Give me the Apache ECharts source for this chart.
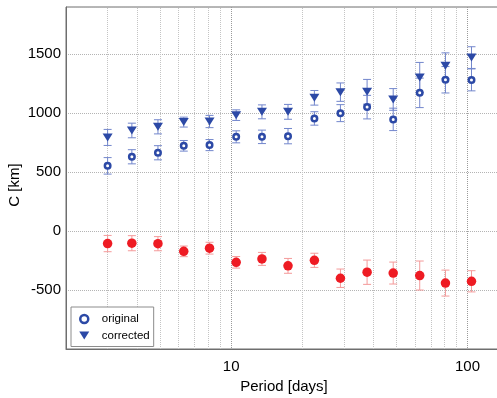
<!DOCTYPE html>
<html>
<head>
<meta charset="utf-8">
<script src="https://cdn.jsdelivr.net/npm/echarts@6/dist/echarts.min.js"></script>
<style>
  html, body { margin: 0; padding: 0; background: #fff; overflow: hidden; }
  #chart { width: 497px; height: 398px; }
</style>
</head>
<body>
<div id="chart"></div>
<script>
// Oscillation period of each bin (days)
const period = [3.0, 3.8, 4.9, 6.3, 8.1, 10.5, 13.5, 17.4, 22.5, 29, 37.6, 48.5, 62.8, 80.7, 104];

// C estimates (km) and their one-sigma errors
const original = [553, 630, 664, 723, 729, 799, 799, 805, 955, 1000, 1051, 947, 1172, 1283, 1282];
const originalErr = [70, 60, 60, 45, 47, 51, 57, 65, 57, 72, 100, 95, 125, 112, 93];

const corrected = [794, 853, 884, 924, 929, 983, 1011, 1011, 1130, 1178, 1181, 1116, 1302, 1401, 1471];
const correctedErr = [68, 62, 60, 42, 52, 45, 59, 63, 62, 78, 105, 92, 128, 110, 92];

const offset = [-106, -103, -107, -172, -145, -265, -236, -295, -248, -400, -349, -356, -377, -441, -426];
const offsetErr = [69, 64, 60, 45, 50, 49, 55, 63, 60, 78, 103, 93, 123, 110, 90];

// Axis tick labels
const xTickLabels = [10, 100];
const yTickLabels = [-500, 0, 500, 1000, 1500];

// Minor log grid lines (2..9, 20..90)
const minorGrid = [];
[1, 10].forEach(function (d) {
  for (let k = 2; k <= 9; k++) minorGrid.push(k * d);
});

const BLUE = '#2c49a6';
const BLUE_BAR = '#7286cc';
const RED = '#ee1b23';
const RED_BAR = '#f49a9a';

function pairs(xs, ys) {
  return xs.map(function (x, i) { return [x, ys[i]]; });
}
function ranges(xs, ys, es) {
  return xs.map(function (x, i) { return [x, ys[i] - es[i], ys[i] + es[i]]; });
}

function errorBars(color) {
  return function (params, api) {
    const x = api.value(0);
    const lo = api.coord([x, api.value(1)]);
    const hi = api.coord([x, api.value(2)]);
    const half = 4;
    const style = { stroke: color, lineWidth: 1 };
    return {
      type: 'group',
      children: [
        { type: 'line', shape: { x1: hi[0], y1: hi[1], x2: lo[0], y2: lo[1] }, style: style },
        { type: 'line', shape: { x1: hi[0] - half, y1: hi[1], x2: hi[0] + half, y2: hi[1] }, style: style },
        { type: 'line', shape: { x1: lo[0] - half, y1: lo[1], x2: lo[0] + half, y2: lo[1] }, style: style }
      ]
    };
  };
}

const chart = echarts.init(document.getElementById('chart'), null, { renderer: 'canvas' });

const FONT = 'Liberation Sans, Arial, Helvetica, sans-serif';

chart.setOption({
  animation: false,
  backgroundColor: '#fff',
  textStyle: { fontFamily: FONT },
  // the plot box is a little wider than the canvas, so its right side is cut off
  grid: {
    left: 66, top: 7, width: 436, bottom: 49,
    outerBoundsMode: 'none',
    containLabel: false,
    show: true, borderColor: '#6e6e6e', borderWidth: 1, backgroundColor: 'transparent'
  },
  xAxis: {
    type: 'log',
    logBase: 10,
    min: 2,
    max: 140,
    name: 'Period [days]',
    nameLocation: 'middle',
    nameGap: 27,
    nameTextStyle: { fontSize: 15, color: '#000', fontFamily: FONT },
    axisLine: { show: true, onZero: false, lineStyle: { color: '#6e6e6e' } },
    axisTick: { show: false },
    axisLabel: {
      fontSize: 15, color: '#000', margin: 10, fontFamily: FONT,
      showMinLabel: false, showMaxLabel: false,
      formatter: function (v) {
        const hit = xTickLabels.find(function (t) { return Math.abs(v - t) < 1e-6 * t; });
        return hit !== undefined ? String(hit) : '';
      }
    },
    splitLine: { show: true, lineStyle: { color: '#9a9a9a', type: 'dotted', width: 1 } }
  },
  yAxis: {
    type: 'value',
    min: -1000,
    max: 1900,
    interval: 500,
    axisLine: { show: true, onZero: false, lineStyle: { color: '#6e6e6e' } },
    axisTick: { show: false },
    axisLabel: {
      fontSize: 15, color: '#000', margin: 5, fontFamily: FONT,
      formatter: function (v) {
        return yTickLabels.indexOf(v) >= 0 ? String(v) : '';
      }
    },
    splitLine: { show: true, lineStyle: { color: '#b4b4b4', type: 'dotted', width: 1 } }
  },
  legend: {
    orient: 'vertical',
    left: 71,
    top: 307,
    z: 10,
    padding: [5, 4, 4, 8],
    itemGap: 2.5,
    itemWidth: 25,
    itemHeight: 8,
    backgroundColor: '#fff',
    borderColor: '#8c8c8c',
    borderWidth: 1,
    borderRadius: 0,
    textStyle: { fontSize: 11.5, color: '#000', fontFamily: FONT, lineHeight: 14 },
    data: [
      { name: 'original', icon: 'circle', itemStyle: { color: '#fff', borderColor: BLUE, borderWidth: 2.5 } },
      { name: 'corrected', icon: 'path://M0,0L10,0L5,8Z', itemStyle: { color: BLUE, borderWidth: 0 } }
    ]
  },
  graphic: [
    {
      type: 'text',
      x: 15,
      y: 185,
      rotation: Math.PI / 2,
      style: {
        text: 'C [km]', fontSize: 15, fill: '#000', fontFamily: FONT,
        align: 'center', verticalAlign: 'middle'
      }
    }
  ],
  series: [
    {
      name: 'minor grid',
      type: 'custom',
      silent: true,
      z: 0,
      data: [],
      renderItem: function () { return null; },
      markLine: {
        z: 0,
        silent: true,
        symbol: ['none', 'none'],
        label: { show: false },
        lineStyle: { color: '#c4c4c4', type: 'dotted', width: 1 },
        emphasis: { disabled: true },
        data: minorGrid.map(function (v) { return { xAxis: v }; })
      }
    },
    {
      name: 'original bars', type: 'custom', z: 2, silent: true,
      renderItem: errorBars(BLUE_BAR),
      data: ranges(period, original, originalErr)
    },
    {
      name: 'corrected bars', type: 'custom', z: 2, silent: true,
      renderItem: errorBars(BLUE_BAR),
      data: ranges(period, corrected, correctedErr)
    },
    {
      name: 'offset bars', type: 'custom', z: 2, silent: true,
      renderItem: errorBars(RED_BAR),
      data: ranges(period, offset, offsetErr)
    },
    {
      name: 'original', type: 'scatter', z: 3,
      symbol: 'circle', symbolSize: 5.5,
      itemStyle: { color: '#fff', borderColor: BLUE, borderWidth: 2.5, opacity: 1 },
      data: pairs(period, original)
    },
    {
      name: 'corrected', type: 'scatter', z: 3,
      symbol: 'path://M0,0L10,0L5,8Z', symbolSize: [10, 8],
      itemStyle: { color: BLUE, opacity: 1 },
      data: pairs(period, corrected)
    },
    {
      name: 'offset', type: 'scatter', z: 3,
      symbol: 'circle', symbolSize: 9.5,
      itemStyle: { color: RED, opacity: 1 },
      data: pairs(period, offset)
    }
  ]
});
</script>
</body>
</html>
